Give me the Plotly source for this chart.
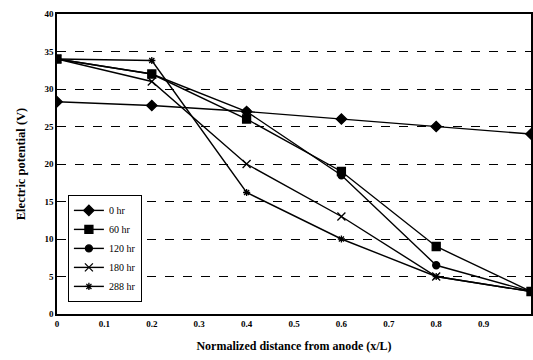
import plotly.graph_objects as go

x_vals = [0, 0.2, 0.4, 0.6, 0.8, 1.0]
s_0hr = [28.3, 27.8, 27.0, 26.0, 25.0, 24.0]
s_60hr = [34.0, 32.0, 26.0, 19.0, 9.0, 3.0]
s_120hr = [34.0, 32.0, 27.0, 18.5, 6.5, 3.0]
s_180hr = [34.0, 31.0, 20.0, 13.0, 5.0, 3.0]
s_288hr = [34.0, 33.8, 16.2, 10.0, 5.0, 3.0]
names = ["0 hr", "60 hr", "120 hr", "180 hr", "288 hr"]

series = [s_0hr, s_60hr, s_120hr, s_180hr, s_288hr]
symbols = ["diamond", "square", "circle", "x-thin-open", "asterisk-open"]
sizes = [8, 8, 7, 8, 6]

fig = go.Figure()
for nm, ys, sym, sz in zip(names, series, symbols, sizes):
    fig.add_trace(go.Scatter(
        x=x_vals, y=ys, name=nm, mode="lines+markers",
        line=dict(color="black", width=1.4),
        marker=dict(symbol=sym, size=sz, color="black",
                    line=dict(color="black", width=1.3)),
    ))

font = "Liberation Serif, Times New Roman, serif"
fig.update_layout(
    width=533, height=360,
    margin=dict(l=57, r=2, t=14, b=46),
    paper_bgcolor="white", plot_bgcolor="white",
    font=dict(family=font, color="black", size=9),
    showlegend=True,
    legend=dict(x=0.023, y=0.397, xanchor="left", yanchor="top",
                bgcolor="white", bordercolor="black", borderwidth=1,
                font=dict(size=10, family=font), tracegroupgap=5,
                itemwidth=30),
    xaxis=dict(range=[0, 1], tickvals=[0, 0.1, 0.2, 0.3, 0.4, 0.5, 0.6, 0.7, 0.8, 0.9, 1],
               ticktext=["0", "0.1", "0.2", "0.3", "0.4", "0.5", "0.6", "0.7", "0.8", "0.9", "1"],
               showgrid=False, zeroline=False, showline=True, linecolor="black",
               linewidth=1.5, mirror=True, ticks="", automargin=False,
               tickfont=dict(size=9, weight="bold"),
               title=dict(text="Normalized distance from anode (x/L)",
                          font=dict(size=12, weight="bold"), standoff=14)),
    yaxis=dict(range=[0, 40], dtick=5, showgrid=True, gridcolor="black",
               griddash="dash", gridwidth=0.8, zeroline=False, showline=True,
               linecolor="black", linewidth=1.5, mirror=True, ticks="",
               automargin=False,
               tickfont=dict(size=9, weight="bold"),
               title=dict(text="Electric potential (V)",
                          font=dict(size=12.5, weight="bold"), standoff=16)),
)

fig.write_html(
    "out.html",
    config={"displayModeBar": False},
    post_script="document.body.style.margin='0';document.body.style.overflow='hidden';",
)
